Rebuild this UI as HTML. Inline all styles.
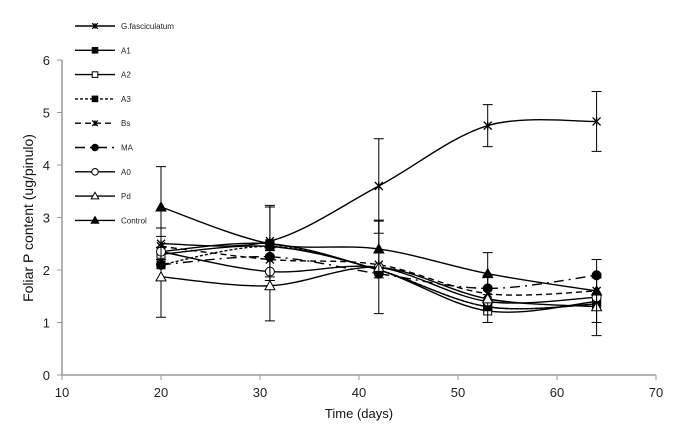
<!DOCTYPE html>
<html><head><meta charset="utf-8"><style>
body{margin:0;background:#fff;}
svg{display:block;font-family:"Liberation Sans",sans-serif;}
</style></head><body>
<svg id="c" width="683" height="439"></svg>
<script>
const days=[20,31,42,53,64];
const seriesNames=["G.fasciculatum","A1","A2","A3","Bs","MA","A0","Pd","Control"];
const gfasc=[2.5,2.55,3.6,4.75,4.83];
const a1=[2.35,2.5,2.0,1.3,1.35];
const a2=[2.3,2.45,2.0,1.22,1.4];
const a3=[2.1,2.45,2.0,1.3,1.35];
const bs=[2.45,2.2,2.1,1.55,1.6];
const ma=[2.1,2.25,1.93,1.65,1.9];
const a0=[2.35,1.97,2.05,1.4,1.48];
const pd=[1.87,1.7,2.05,1.45,1.3];
const control=[3.2,2.5,2.4,1.93,1.6];
const gfascErr=[0.3,0.68,0.9,0.4,0.57];
const pdErr=[0.77,0.67,0.88,0.45,0.55];
const controlErr=[0.77,0.7,0.55,0.4,0.6];
const xTicks=[10,20,30,40,50,60,70];
const yTicks=[0,1,2,3,4,5,6];

const NS="http://www.w3.org/2000/svg",svg=document.getElementById('c');
const X=v=>62+(v-10)*9.9, Y=v=>375-v*52.5;
function el(t,a,p){const e=document.createElementNS(NS,t);for(const k in a)e.setAttribute(k,a[k]);(p||svg).appendChild(e);return e;}
let ax=el('line',{x1:62,y1:Y(0),x2:656,y2:Y(0),stroke:'#999','stroke-width':1.5});

let ay=el('line',{x1:62,y1:Y(0),x2:62,y2:Y(6),stroke:'#999','stroke-width':1.5});

xTicks.forEach(t=>{el('line',{x1:X(t),x2:X(t),y1:Y(0),y2:Y(0)+5,stroke:'#999'});
 const tx=el('text',{x:X(t),y:Y(0)+22,'font-size':13,'text-anchor':'middle',fill:'#222'});tx.textContent=t;
 });
yTicks.forEach(t=>{el('line',{x1:57,x2:62,y1:Y(t),y2:Y(t),stroke:'#999'});
 const tx=el('text',{x:50,y:Y(t)+5,'font-size':13,'text-anchor':'end',fill:'#222'});tx.textContent=t;
 });
let xt=el('text',{x:359,y:418,'font-size':13,'text-anchor':'middle',fill:'#111'});xt.textContent='Time (days)';

let yt=el('text',{x:0,y:0,'font-size':14,'text-anchor':'middle',fill:'#111',transform:'translate(33,218) rotate(-90)'});yt.textContent='Foliar P content (ug/pinulo)';


const data=[gfasc,a1,a2,a3,bs,ma,a0,pd,control];
const dashArr=['','','','3,2','6,4','10,5,2,5','','',''];
const mk=['x','sq','osq','sq','x','ci','oci','otr','tr'];
const errs=[gfascErr,null,null,null,null,null,null,pdErr,controlErr];
function marker(type,x,y,g,s){s=s||1;const r=4*s;
 if(type==='x'){el('path',{d:`M${x-r} ${y-r}L${x+r} ${y+r}M${x-r} ${y+r}L${x+r} ${y-r}M${x} ${y-r}V${y+r}`,stroke:'#000','stroke-width':1.3},g);}
 else if(type==='sq'||type==='osq')el('rect',{x:x-r,y:y-r,width:2*r,height:2*r,fill:type==='sq'?'#000':'#fff',stroke:'#000'},g);
 else if(type==='ci'||type==='oci')el('circle',{cx:x,cy:y,r:r+0.5,fill:type==='ci'?'#000':'#fff',stroke:'#000'},g);
 else el('path',{d:`M${x} ${y-r-1}L${x+r+1} ${y+r}L${x-r-1} ${y+r}Z`,fill:type==='tr'?'#000':'#fff',stroke:'#000'},g);
}
function smooth(pts){let d=`M${pts[0][0]} ${pts[0][1]}`;
 for(let i=0;i<pts.length-1;i++){const p0=pts[i-1]||pts[i],p1=pts[i],p2=pts[i+1],p3=pts[i+2]||p2;
  d+=`C${p1[0]+(p2[0]-p0[0])/6} ${p1[1]+(p2[1]-p0[1])/6} ${p2[0]-(p3[0]-p1[0])/6} ${p2[1]-(p3[1]-p1[1])/6} ${p2[0]} ${p2[1]}`;}return d;}
data.forEach((s,i)=>{
 const g=el('g',{});
 if(errs[i])s.forEach((v,j)=>{const e=errs[i][j],x=X(days[j]);
  el('path',{d:`M${x} ${Y(v-e)}V${Y(v+e)}M${x-5} ${Y(v-e)}H${x+5}M${x-5} ${Y(v+e)}H${x+5}`,stroke:'#000','stroke-width':1},g);});
 el('path',{d:smooth(s.map((v,j)=>[X(days[j]),Y(v)])),fill:'none',stroke:'#000','stroke-width':1.4,'stroke-dasharray':dashArr[i]},g);
 s.forEach((v,j)=>marker(mk[i],X(days[j]),Y(v),g));
 const lg=el('g',{});
 const ly=26+i*24.3;
 el('line',{x1:75,x2:115,y1:ly,y2:ly,stroke:'#000','stroke-width':1.4,'stroke-dasharray':dashArr[i]},lg);
 marker(mk[i],95,ly,lg,0.7);
 const t=el('text',{x:121,y:ly+3,'font-size':8,fill:'#222'},lg);t.textContent=seriesNames[i];
});
</script>
</body></html>
